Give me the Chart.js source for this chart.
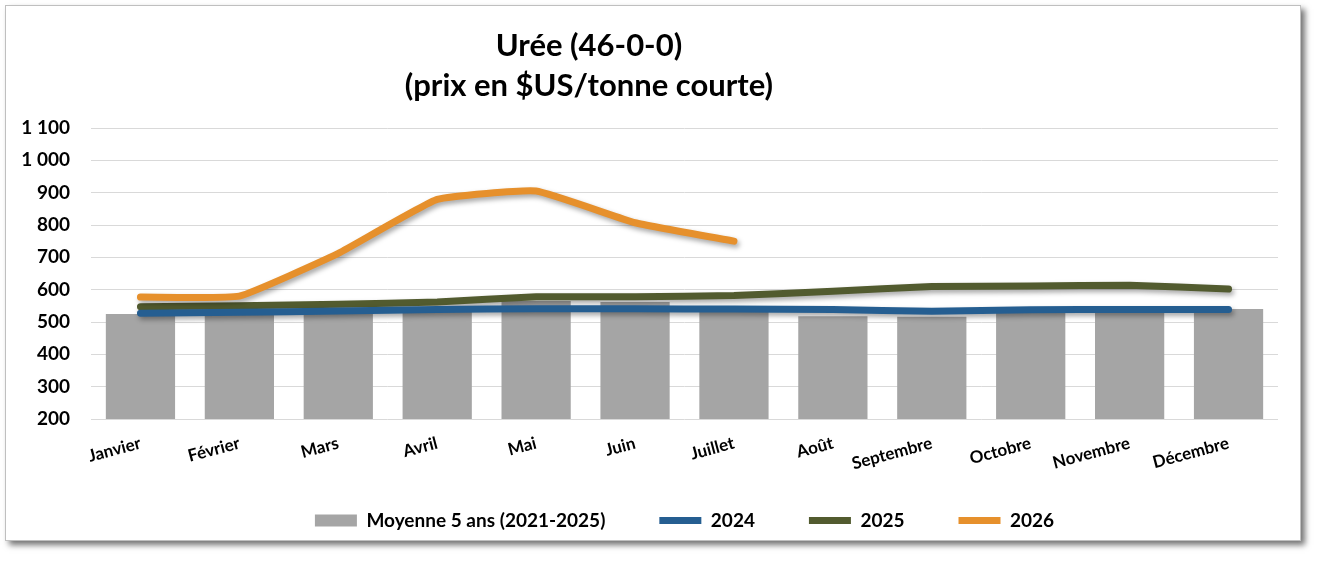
<!DOCTYPE html>
<html>
<head>
<meta charset="utf-8">
<script src="https://cdn.jsdelivr.net/npm/chart.js@4.4.1/dist/chart.umd.min.js"></script>
<style>
  html, body { margin: 0; padding: 0; background: #ffffff; }
  #frame {
    position: absolute; left: 5px; top: 5px; width: 1294px; height: 534px;
    border: 1px solid #bfbfbf; background: #ffffff;
    box-shadow: 4px 4px 6px rgba(0, 0, 0, 0.55);
  }
  #chart { display: block; }
</style>
</head>
<body>
<div id="frame"><canvas id="chart" width="1294" height="534"></canvas></div>
<script>
"use strict";

// data
var months = ["Janvier", "Février", "Mars", "Avril", "Mai", "Juin",
  "Juillet", "Août", "Septembre", "Octobre", "Novembre", "Décembre"];
var avg5 = [525, 528, 532, 538, 565, 562, 538, 518, 516, 532, 534, 540];
var y2024 = [527, 530, 534, 539, 541, 541, 540, 539, 533, 538, 539, 539];
var y2025 = [547, 550, 555, 562, 578, 578, 582, 595, 610, 611, 614, 602];
var y2026 = [577, 580, 712, 879, 905, 807, 750];
var titleLines = ["Urée (46-0-0)", "(prix en $US/tonne courte)"];

var FONT = "Lato, 'Open Sans', sans-serif";

function fmtTick(v) {
  var s = String(v);
  if (v >= 1000) {
    s = s.slice(0, s.length - 3) + " " + s.slice(s.length - 3);
  }
  return s;
}

// title drawn slightly left of canvas centre, as in the reference
var titlePlugin = {
  id: "offsetTitle",
  afterLayout: function (chart) {
    // let the month labels spill below the (short) x axis box
    chart.scales.x.bottom = chart.height;
  },
  afterDraw: function (chart) {
    var ctx = chart.ctx;
    ctx.save();
    ctx.fillStyle = "#000000";
    ctx.font = "bold 31px " + FONT;
    ctx.textAlign = "center";
    ctx.textBaseline = "middle";
    ctx.fillText(titleLines[0], 583, 40);
    ctx.fillText(titleLines[1], 583, 80);
    ctx.restore();
  }
};

// soft shadow under the lines
var shadowPlugin = {
  id: "lineShadow",
  beforeDatasetDraw: function (chart, args) {
    if (args.meta.type !== "line") return;
    var ctx = chart.ctx;
    ctx.save();
    ctx.shadowColor = "rgba(0,0,0,0.35)";
    ctx.shadowBlur = 5;
    ctx.shadowOffsetX = 2;
    ctx.shadowOffsetY = 3;
  },
  afterDatasetDraw: function (chart, args) {
    if (args.meta.type !== "line") return;
    chart.ctx.restore();
  }
};

function lineSet(label, data, color, order) {
  return {
    type: "line",
    label: label,
    data: data,
    borderColor: color,
    backgroundColor: color,
    borderWidth: 7,
    borderCapStyle: "round",
    borderJoinStyle: "round",
    pointRadius: 0,
    pointHoverRadius: 0,
    pointStyle: "line",
    tension: 0.12,
    order: order
  };
}

new Chart(document.getElementById("chart"), {
  type: "bar",
  data: {
    labels: months,
    datasets: [
      {
        label: "Moyenne 5 ans (2021-2025)",
        data: avg5,
        backgroundColor: "#a5a5a5",
        barPercentage: 0.7,
        categoryPercentage: 1,
        pointStyle: "rect",
        order: 3
      },
      lineSet("2024", y2024, "#255e91", 1),
      lineSet("2025", y2025, "#525b2f", 2),
      lineSet("2026", y2026, "#e6902c", 0)
    ]
  },
  options: {
    responsive: false,
    animation: false,
    layout: { padding: { top: 122, right: 22, bottom: 0, left: 0 } },
    plugins: {
      title: { display: false },
      tooltip: { enabled: false },
      legend: {
        position: "bottom",
        fullSize: false,
        labels: {
          usePointStyle: true,
          pointStyleWidth: 42,
          boxWidth: 42,
          boxHeight: 12,
          padding: 54,
          color: "#000000",
          font: { family: FONT, size: 19, weight: "bold" },
          sort: function (a, b) { return a.datasetIndex - b.datasetIndex; }
        }
      }
    },
    scales: {
      x: {
        grid: { display: false },
        border: { display: false },
        ticks: {
          color: "#000000",
          minRotation: 15,
          maxRotation: 15,
          padding: 6,
          font: { family: FONT, size: 17, weight: "bold" }
        },
        afterFit: function (scale) { scale.height = 38; }
      },
      y: {
        min: 200,
        max: 1100,
        grid: { color: "#d9d9d9", lineWidth: 1, drawTicks: false },
        border: { display: false },
        ticks: {
          stepSize: 100,
          padding: 21,
          color: "#000000",
          font: { family: FONT, size: 19, weight: "bold" },
          callback: function (v) { return fmtTick(v); }
        },
        afterFit: function (scale) { scale.width = 85; }
      }
    }
  },
  plugins: [titlePlugin, shadowPlugin]
});
</script>
</body>
</html>
